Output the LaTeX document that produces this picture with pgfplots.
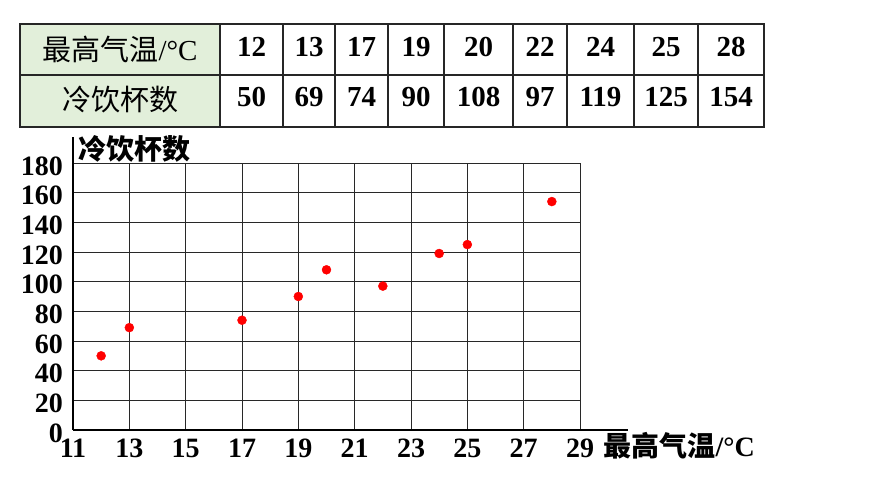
\documentclass[border=0pt]{standalone}
\usepackage{fontspec}
\usepackage{pgfplots}
\pgfplotsset{compat=1.18}
\setmainfont{Liberation Serif}
\newfontfamily\cjk{Noto Sans CJK SC}
\definecolor{headgreen}{RGB}{226,239,218}
\definecolor{gridgray}{RGB}{40,40,40}

\begin{document}
\begin{tikzpicture}[x=1pt,y=1pt]
\useasboundingbox (0,0) rectangle (870,489);

% table above the chart
\fill[headgreen] (20,362) rectangle (220,465);
\draw[line width=1.3pt,black!85] (20,362) rectangle (764,465);
\draw[line width=1.3pt,black!85] (20,414) -- (764,414);
\foreach \xx in {220,283,335,388,444,513,567,634,698}
  \draw[line width=1.3pt,black!85] (\xx,362) -- (\xx,465);
\node[font=\fontsize{29}{29}\selectfont] at (120,440) {\cjk 最高气温\rmfamily/°C};
\node[font=\fontsize{29}{29}\selectfont] at (120,389) {\cjk 冷饮杯数};
\foreach \cx/\tv/\nv in {251.5/12/50, 309/13/69, 361.5/17/74, 416/19/90,
    478.5/20/108, 540/22/97, 600.5/24/119, 666/25/125, 731/28/154} {
  \node[anchor=base, inner sep=0pt, font=\fontsize{29}{29}\selectfont\bfseries] at (\cx,432.5) {\tv};
  \node[anchor=base, inner sep=0pt, font=\fontsize{29}{29}\selectfont\bfseries] at (\cx,382) {\nv};
}

\begin{axis}[
    at={(73pt,59pt)}, anchor=south west,
    scale only axis,
    width=507pt, height=267pt,
    xmin=11, xmax=29,
    ymin=0, ymax=180,
    xtick={11,13,...,29},
    ytick={0,20,...,180},
    grid=major,
    major grid style={line width=0.9pt, draw=gridgray},
    axis line style={draw=none},
    tick style={draw=none},
    clip=false,
    /pgf/number format/assume math mode=true,
    tick label style={font=\fontsize{28}{28}\selectfont\bfseries, inner sep=0pt},
    xticklabel style={anchor=base, yshift=-28pt},
    yticklabel style={anchor=east, xshift=-10pt, yshift=-3pt},
]
\addplot[only marks, mark=*, mark size=4.5pt, color=red] coordinates {
    (12,50) (13,69) (17,74) (19,90) (20,108)
    (22,97) (24,119) (25,125) (28,154)
};
\draw[line width=2.2pt] (axis cs:11,0) -- (axis cs:30.7,0);
\draw[line width=2.2pt] (axis cs:11,0) -- (axis cs:11,197.5);
\end{axis}

\node[anchor=base west, font=\fontsize{28}{28}\selectfont\bfseries] at (600,32) {\cjk 最高气温\rmfamily/°C};
\node[anchor=west, font=\fontsize{28}{28}\selectfont\bfseries] at (75,340) {\cjk 冷饮杯数};
\end{tikzpicture}
\end{document}
